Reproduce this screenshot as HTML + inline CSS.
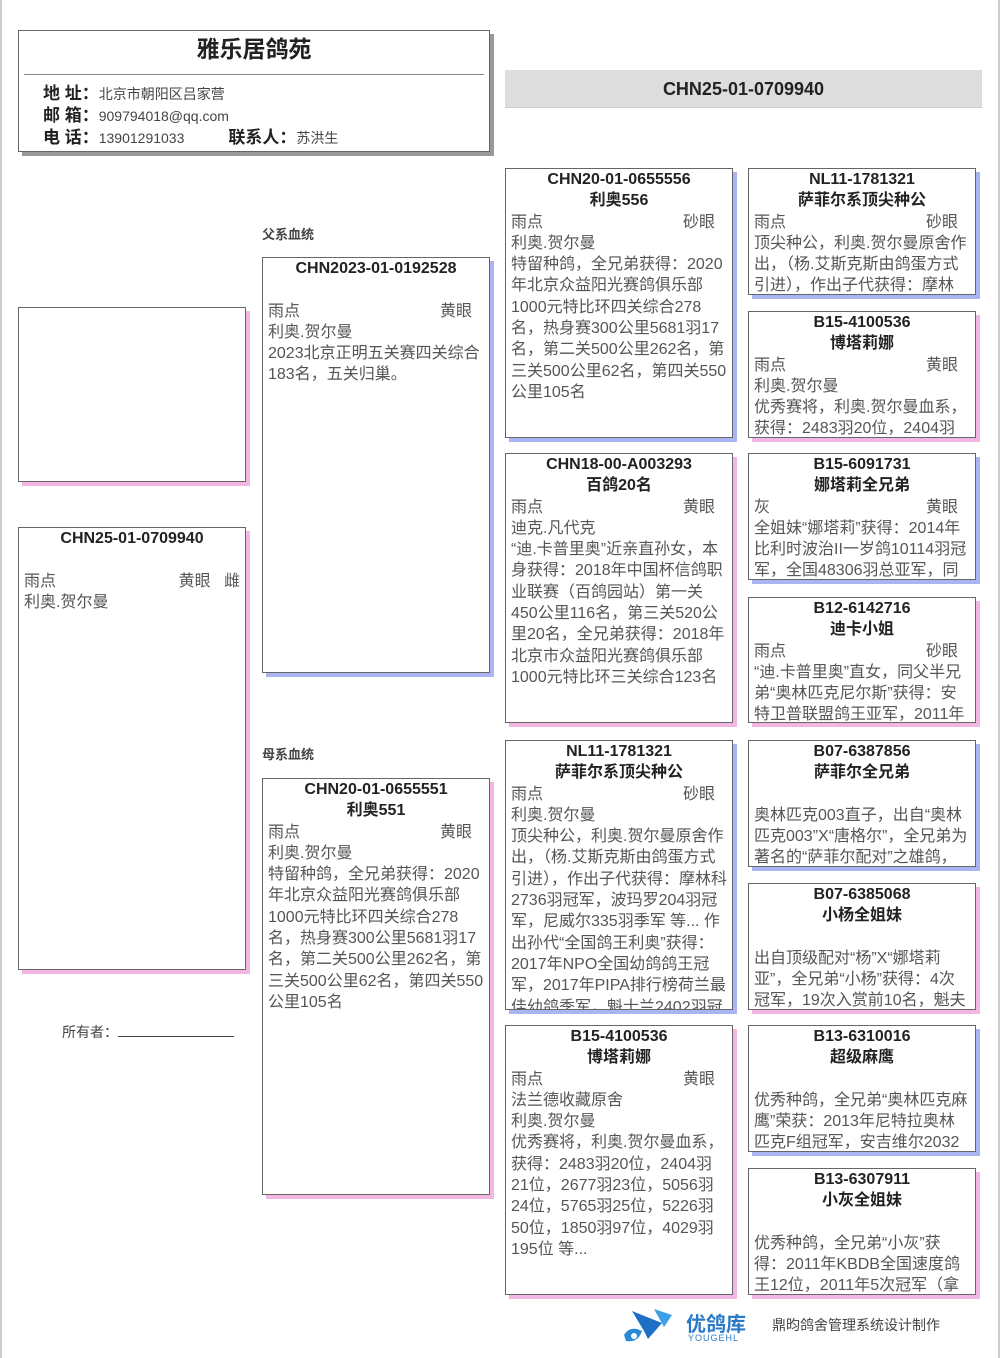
<!DOCTYPE html>
<html><head><meta charset="utf-8"><style>
*{margin:0;padding:0;box-sizing:border-box}
body{width:1000px;height:1358px;background:#fff;position:relative;overflow:hidden;font-family:"Liberation Sans","Noto Sans CJK SC",sans-serif;color:#555}
.pg{position:absolute;left:0;top:0;width:1000px;height:1358px;border-left:2px solid #ccc;border-right:2px solid #ccc}
.b{position:absolute;border:1px solid #666;background:#fff;overflow:hidden;padding:0 5px 0 5px;font-size:16px;line-height:21.3px}
.bl{box-shadow:4px 4px 0 #aab4f0}
.pk{box-shadow:4px 4px 0 #f2b6e4}
.gy{box-shadow:4px 4px 0 #999}
.h{text-align:center;font-weight:bold;color:#222;font-size:16px}
.r{display:flex;justify-content:space-between;padding-right:12px}
.lab{position:absolute;font-size:13px;font-weight:bold;color:#444}
</style></head><body><div class="pg"></div>

<div class="b gy" style="left:18px;top:30px;width:472px;height:122px;padding:0">
<div style="text-align:center;font-size:23px;font-weight:bold;color:#222;padding-top:8px;height:43px">雅乐居鸽苑</div>
<div style="border-top:1px solid #888;margin:0 5px 0 5px"></div>
<div style="padding:8px 0 0 24px;font-size:14px;line-height:21px;color:#444">
<div><b style="font-size:17px;color:#222">地 址：</b>北京市朝阳区吕家营</div>
<div><b style="font-size:17px;color:#222">邮 箱：</b>909794018@qq.com</div>
<div><b style="font-size:17px;color:#222">电 话：</b>13901291033<span style="display:inline-block;width:44px"></span><b style="font-size:17px;color:#222">联系人：</b>苏洪生</div>
</div></div>

<div style="position:absolute;left:505px;top:70px;width:477px;height:38px;background:#ddd;border-bottom:1px solid #ccc;text-align:center;font-weight:bold;font-size:18px;line-height:38px;color:#222">CHN25-01-0709940</div>

<div class="b pk" style="left:18px;top:307px;width:228px;height:175px"></div>

<div class="b pk" style="left:18px;top:527px;width:228px;height:443px">
<div class="h">CHN25-01-0709940</div><div>&nbsp;</div>
<div class="r" style="padding-right:0"><span>雨点</span><span>黄眼 &nbsp; 雌</span></div>
<div>利奥.贺尔曼</div></div>

<div class="lab" style="left:262px;top:224px">父系血统</div>
<div class="lab" style="left:262px;top:744px">母系血统</div>

<div class="b bl" style="left:262px;top:257px;width:228px;height:416px">
<div class="h">CHN2023-01-0192528</div><div>&nbsp;</div>
<div class="r"><span>雨点</span><span>黄眼</span></div>
<div>利奥.贺尔曼</div>
<div>2023北京正明五关赛四关综合183名，五关归巢。</div></div>

<div class="b pk" style="left:262px;top:778px;width:228px;height:417px">
<div class="h">CHN20-01-0655551</div><div class="h">利奥551</div>
<div class="r"><span>雨点</span><span>黄眼</span></div>
<div>利奥.贺尔曼</div>
<div>特留种鸽，全兄弟获得：2020年北京众益阳光赛鸽俱乐部1000元特比环四关综合278名，热身赛300公里5681羽17名，第二关500公里262名，第三关500公里62名，第四关550公里105名</div></div>

<div style="position:absolute;left:62px;top:1022px;font-size:14px;color:#444">所有者：<span style="display:inline-block;width:116px;border-bottom:1px solid #444;height:14px"></span></div>

<div class="b bl" style="left:505px;top:168px;width:228px;height:270px">
<div class="h">CHN20-01-0655556</div><div class="h">利奥556</div>
<div class="r"><span>雨点</span><span>砂眼</span></div>
<div>利奥.贺尔曼</div>
<div>特留种鸽，全兄弟获得：2020年北京众益阳光赛鸽俱乐部1000元特比环四关综合278名，热身赛300公里5681羽17名，第二关500公里262名，第三关500公里62名，第四关550公里105名</div></div>

<div class="b pk" style="left:505px;top:453px;width:228px;height:270px">
<div class="h">CHN18-00-A003293</div><div class="h">百鸽20名</div>
<div class="r"><span>雨点</span><span>黄眼</span></div>
<div>迪克.凡代克</div>
<div>“迪.卡普里奥”近亲直孙女，本身获得：2018年中国杯信鸽职业联赛（百鸽园站）第一关450公里116名，第三关520公里20名，全兄弟获得：2018年北京市众益阳光赛鸽俱乐部1000元特比环三关综合123名</div></div>

<div class="b bl" style="left:505px;top:740px;width:228px;height:270px">
<div class="h">NL11-1781321</div><div class="h">萨菲尔系顶尖种公</div>
<div class="r"><span>雨点</span><span>砂眼</span></div>
<div>利奥.贺尔曼</div>
<div>顶尖种公，利奥.贺尔曼原舍作出，（杨.艾斯克斯由鸽蛋方式引进），作出子代获得：摩林科2736羽冠军，波玛罗204羽冠军，尼威尔335羽季军 等... 作出孙代“全国鸽王利奥”获得：2017年NPO全国幼鸽鸽王冠军，2017年PIPA排行榜荷兰最佳幼鸽季军，魁士兰2402羽冠</div></div>

<div class="b pk" style="left:505px;top:1025px;width:228px;height:270px">
<div class="h">B15-4100536</div><div class="h">博塔莉娜</div>
<div class="r"><span>雨点</span><span>黄眼</span></div>
<div>法兰德收藏原舍</div>
<div>利奥.贺尔曼</div>
<div>优秀赛将，利奥.贺尔曼血系，获得：2483羽20位，2404羽21位，2677羽23位，5056羽24位，5765羽25位，5226羽50位，1850羽97位，4029羽195位 等...</div></div>

<div class="b bl" style="left:748px;top:168px;width:228px;height:127px">
<div class="h">NL11-1781321</div><div class="h">萨菲尔系顶尖种公</div>
<div class="r"><span>雨点</span><span>砂眼</span></div>
<div>顶尖种公，利奥.贺尔曼原舍作出，（杨.艾斯克斯由鸽蛋方式引进），作出子代获得：摩林</div></div>

<div class="b pk" style="left:748px;top:311px;width:228px;height:127px">
<div class="h">B15-4100536</div><div class="h">博塔莉娜</div>
<div class="r"><span>雨点</span><span>黄眼</span></div>
<div>利奥.贺尔曼</div>
<div>优秀赛将，利奥.贺尔曼血系，获得：2483羽20位，2404羽21</div></div>

<div class="b bl" style="left:748px;top:453px;width:228px;height:127px">
<div class="h">B15-6091731</div><div class="h">娜塔莉全兄弟</div>
<div class="r"><span>灰</span><span>黄眼</span></div>
<div>全姐妹“娜塔莉”获得：2014年<br>比利时波治II一岁鸽10114羽冠军，全国48306羽总亚军，同</div></div>

<div class="b pk" style="left:748px;top:597px;width:228px;height:126px">
<div class="h">B12-6142716</div><div class="h">迪卡小姐</div>
<div class="r"><span>雨点</span><span>砂眼</span></div>
<div>“迪.卡普里奥”直女，同父半兄弟“奥林匹克尼尔斯”获得：安特卫普联盟鸽王亚军，2011年中</div></div>

<div class="b bl" style="left:748px;top:740px;width:228px;height:127px">
<div class="h">B07-6387856</div><div class="h">萨菲尔全兄弟</div><div>&nbsp;</div>
<div>奥林匹克003直子，出自“奥林<br>匹克003”X“唐格尔”，全兄弟为著名的“萨菲尔配对”之雄鸽，自</div></div>

<div class="b pk" style="left:748px;top:883px;width:228px;height:127px">
<div class="h">B07-6385068</div><div class="h">小杨全姐妹</div><div>&nbsp;</div>
<div>出自顶级配对“杨”X“娜塔莉<br>亚”，全兄弟“小杨”获得：4次冠军，19次入赏前10名，魁夫兰</div></div>

<div class="b bl" style="left:748px;top:1025px;width:228px;height:127px">
<div class="h">B13-6310016</div><div class="h">超级麻鹰</div><div>&nbsp;</div>
<div>优秀种鸽，全兄弟“奥林匹克麻鹰”荣获：2013年尼特拉奥林匹克F组冠军，安吉维尔2032羽</div></div>

<div class="b pk" style="left:748px;top:1168px;width:228px;height:127px">
<div class="h">B13-6307911</div><div class="h">小灰全姐妹</div><div>&nbsp;</div>
<div>优秀种鸽，全兄弟“小灰”获得：2011年KBDB全国速度鸽王12位，2011年5次冠军（拿永220</div></div>

<svg style="position:absolute;left:618px;top:1305px" width="70" height="42" viewBox="0 0 70 42">
<path d="M6 30 Q12 20 24 26 Q20 38 8 36 Z" fill="#2a8ad8"/>
<path d="M14 6 L44 18 L30 34 L26 26 Z" fill="#1c6fc4"/>
<path d="M36 4 L54 10 L46 22 Z" fill="#3aa0e8"/>
<circle cx="16" cy="31" r="3" fill="#fff"/>
</svg>
<div style="position:absolute;left:686px;top:1308px;font-size:20px;font-weight:bold;color:#2a7ac8">优鸽库</div>
<div style="position:absolute;left:688px;top:1333px;font-size:9px;color:#2a7ac8;letter-spacing:1px">YOUGEHL</div>
<div style="position:absolute;left:772px;top:1315px;font-size:14px;color:#444">鼎昀鸽舍管理系统设计制作</div>
</body></html>
